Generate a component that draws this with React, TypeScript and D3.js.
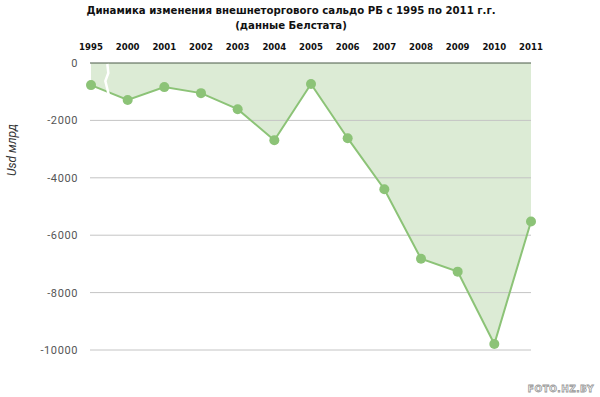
import React from "react";
import * as d3 from "d3";

const years = ["1995", "2000", "2001", "2002", "2003", "2004", "2005", "2006", "2007", "2008", "2009", "2010", "2011"];
const balance = [-770, -1290, -840, -1050, -1610, -2690, -730, -2620, -4400, -6820, -7270, -9790, -5520];
const yTicks = [0, -2000, -4000, -6000, -8000, -10000];
const titleLines = ["Динамика изменения внешнеторгового сальдо РБ с 1995 по  2011 г.г.", "(данные Белстата)"];
const yLabel = "Usd млрд";
const watermark = "FOTO.HZ.BY";

const W = 600;
const H = 397;
const left = 90;
const right = 531;
const top0 = 63;

export default function App() {
  const x = d3.scalePoint<string>().domain(years).range([91, 531]);
  const y = d3.scaleLinear().domain([0, -10000]).range([top0, 350]);
  const data = years.map((yr, i) => ({ yr, v: balance[i] }));

  const area = d3
    .area<{ yr: string; v: number }>()
    .x((d) => x(d.yr) as number)
    .y0(y(0))
    .y1((d) => y(d.v));
  const line = d3
    .line<{ yr: string; v: number }>()
    .x((d) => x(d.yr) as number)
    .y((d) => y(d.v));

  const green = "#8cc377";
  const fill = "#dcebd5";
  const narrow = "'Liberation Sans Narrow', 'DejaVu Sans Condensed', Arial, sans-serif";

  const bx = (x(years[0])! + x(years[1])!) / 2 - 3;

  return (
    <svg width={W} height={H} style={{ position: "absolute", left: 0, top: 0, background: "#fff" }}>
      <rect width={W} height={H} fill="#fff" />
      {titleLines.map((t, i) => (
        <text
          key={i}
          x={291}
          y={14 + i * 15}
          textAnchor="middle"
          fontFamily={narrow}
          fontWeight="bold"
          fontSize={11.3}
          fill="#111"
        >
          {t}
        </text>
      ))}
      {years.map((yr) => (
        <text
          key={yr}
          x={x(yr)}
          y={50}
          textAnchor="middle"
          fontFamily={narrow}
          fontWeight="bold"
          fontSize={9.5}
          fill="#111"
        >
          {yr}
        </text>
      ))}
      <path d={area(data) || ""} fill={fill} />
      {yTicks.map((t) => (
        <g key={t}>
          <line
            x1={left}
            x2={right}
            y1={y(t)}
            y2={y(t)}
            stroke={t === 0 ? "#4a5a48" : "#c4c4c4"}
            strokeWidth={t === 0 ? 1.2 : 1}
          />
          <text
            x={78}
            y={y(t) + 4}
            textAnchor="end"
            fontFamily="Roboto, 'DejaVu Sans', sans-serif"
            fontSize={11}
            letterSpacing={0.6}
            fill="#555"
          >
            {t}
          </text>
        </g>
      ))}
      <path d={line(data) || ""} fill="none" stroke={green} strokeWidth={2} />
      {data.map((d) => (
        <circle key={d.yr} cx={x(d.yr)} cy={y(d.v)} r={5} fill={green} />
      ))}
      <path
        d={`M${bx + 1},${y(0) + 1} L${bx + 2},${y(0) + 10} L${bx - 1},${y(0) + 18} L${bx + 1},${y(0) + 26} L${bx + 3},${y(0) + 34}`}
        fill="none"
        stroke="#fff"
        strokeWidth={2.5}
      />
      <text
        transform={`translate(16,150) rotate(-90)`}
        textAnchor="middle"
        fontFamily="Roboto, 'DejaVu Sans', sans-serif"
        fontStyle="italic"
        fontSize={12}
        fill="#333"
      >
        {yLabel}
      </text>
      <text
        x={594}
        y={392}
        textAnchor="end"
        fontFamily="'DejaVu Sans', sans-serif"
        fontWeight="bold"
        fontSize={9}
        letterSpacing={0.5}
        fill="#fff"
        stroke="#999"
        strokeWidth={0.8}
      >
        {watermark}
      </text>
    </svg>
  );
}
